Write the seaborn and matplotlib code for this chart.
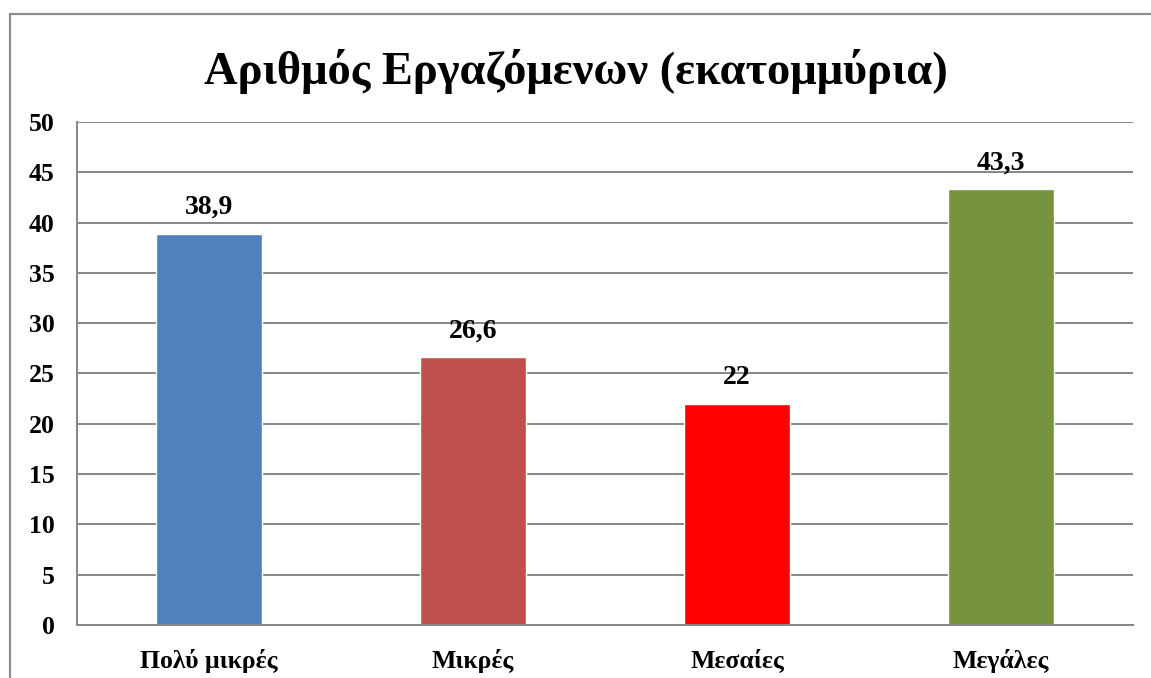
import matplotlib
matplotlib.use('Agg')
import matplotlib.pyplot as plt
import seaborn as sns
import pandas as pd
from matplotlib.patches import Rectangle
from matplotlib.ticker import FixedLocator

categories = ['Πολύ μικρές', 'Μικρές', 'Μεσαίες', 'Μεγάλες']
values = [38.9, 26.6, 22, 43.3]
labels = ['38,9', '26,6', '22', '43,3']
colors = ['#4F81BD', '#C0504D', '#FF0000', '#77933C']
title = 'Αριθμός Εργαζόμενων (εκατομμύρια)'

sns.set_style('white')
plt.rcParams['font.family'] = ['Liberation Serif', 'DejaVu Serif']
plt.rcParams['font.weight'] = 'bold'
plt.rcParams['text.color'] = 'black'
plt.rcParams['xtick.labelcolor'] = 'black'
plt.rcParams['ytick.labelcolor'] = 'black'

df = pd.DataFrame({'cat': categories, 'val': values})

fig = plt.figure(figsize=(11.51, 6.78), dpi=100)
ax = fig.add_axes([0.0669, 0.0782, 0.9175, 0.7419])

sns.barplot(data=df, x='cat', y='val', hue='cat', palette=colors,
            width=0.4, legend=False, saturation=1, ax=ax)

grid_c = '#868686'
ax.set_ylim(0, 50)
ax.set_xlim(-0.5, len(categories) - 0.5)
ax.set_yticks(range(0, 51, 5))
ax.yaxis.grid(True, color=grid_c, linewidth=1.4)
ax.set_axisbelow(True)
for s in ['top', 'right']:
    ax.spines[s].set_visible(False)
for s in ['left', 'bottom']:
    ax.spines[s].set_color(grid_c)
    ax.spines[s].set_linewidth(1.4)

ax.tick_params(axis='y', length=5, width=1.4, color=grid_c, pad=11, labelsize=18.5)
ax.tick_params(axis='x', which='major', length=0, pad=17, labelsize=18.5)
ax.xaxis.set_minor_locator(FixedLocator([i - 0.5 for i in range(len(categories) + 1)]))
ax.tick_params(axis='x', which='minor', length=5, width=1.4, color=grid_c)
ax.set_xlabel('')
ax.set_ylabel('')

for i, (v, lab) in enumerate(zip(values, labels)):
    ax.annotate(lab, (i, v), xytext=(0, 10), textcoords='offset points',
                ha='center', va='bottom', fontsize=20, fontweight='bold')

fig.text(0.5, 0.895, title, ha='center', va='center', fontsize=33.5, fontweight='bold')

fig.patches.append(Rectangle((10 / 1151, -0.1), 1.2, 1 - 14 / 678 + 0.1,
                             transform=fig.transFigure, fill=False,
                             edgecolor='#8c8c8c', linewidth=1.6))

fig.savefig('out.png', dpi=100, facecolor='white')
